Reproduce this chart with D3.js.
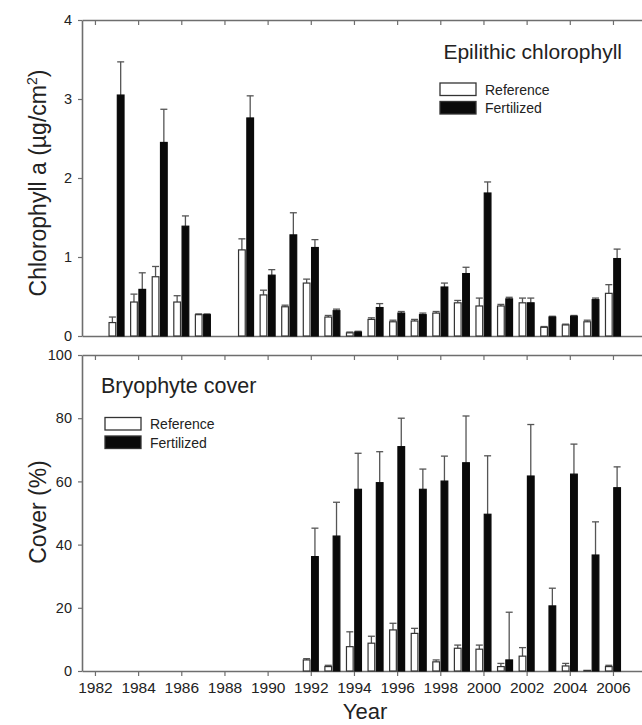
<!DOCTYPE html>
<html>
<head>
<meta charset="utf-8">
<script src="https://cdn.jsdelivr.net/npm/d3@7/dist/d3.min.js"></script>
<style>
  body { margin: 0; background: #fff; }
  svg { display: block; font-family: "Liberation Sans", Arial, sans-serif; }
</style>
</head>
<body>
<svg id="chart" width="642" height="725"></svg>
<script>
// years on the x axis
const years = d3.range(1982, 2007);
const yearTicks = d3.range(1982, 2007, 2);

// epilithic chlorophyll a (ug/cm2), mean and SE, null = not sampled
const chlRef = [null, 0.17, 0.43, 0.75, 0.43, 0.27, null, 1.09, 0.52, 0.37, 0.67, 0.24, 0.04,
  0.21, 0.18, 0.19, 0.29, 0.42, 0.38, 0.38, 0.42, 0.11, 0.14, 0.18, 0.54];
const chlRefSe = [null, 0.07, 0.10, 0.13, 0.08, 0.01, null, 0.14, 0.06, 0.02, 0.05, 0.02, 0.01,
  0.02, 0.02, 0.02, 0.02, 0.03, 0.10, 0.02, 0.06, 0.01, 0.01, 0.02, 0.11];
const chlFert = [null, 3.05, 0.59, 2.45, 1.39, 0.27, null, 2.76, 0.77, 1.28, 1.12, 0.32, 0.05,
  0.36, 0.29, 0.27, 0.62, 0.79, 1.81, 0.47, 0.42, 0.24, 0.25, 0.46, 0.98];
const chlFertSe = [null, 0.42, 0.21, 0.42, 0.13, 0.01, null, 0.28, 0.07, 0.28, 0.10, 0.02, 0.01,
  0.05, 0.02, 0.02, 0.05, 0.08, 0.14, 0.02, 0.06, 0.01, 0.01, 0.02, 0.12];

// bryophyte cover (%), mean and SE
const covRef = [null, null, null, null, null, null, null, null, null, null, 3.5, 1.4, 7.7,
  8.8, 13.0, 11.9, 2.9, 7.2, 6.9, 1.4, 4.7, 0, 1.6, 0.2, 1.4];
const covRefSe = [null, null, null, null, null, null, null, null, null, null, 0.4, 0.4, 4.7,
  2.2, 2.1, 1.6, 0.6, 1.0, 1.3, 1.0, 2.7, 0, 0.8, 0, 0.4];
const covFert = [null, null, null, null, null, null, null, null, null, null, 36.2, 42.7, 57.5,
  59.6, 71.0, 57.5, 60.1, 65.9, 49.6, 3.5, 61.7, 20.6, 62.3, 36.7, 58.0];
const covFertSe = [null, null, null, null, null, null, null, null, null, null, 9.0, 10.7, 11.4,
  9.8, 9.0, 6.4, 7.9, 14.8, 18.5, 15.1, 16.3, 5.6, 9.5, 10.5, 6.6];

const chlTicks = [0, 1, 2, 3, 4];
const covTicks = [0, 20, 40, 60, 80, 100];
const seriesNames = ["Reference", "Fertilized"];

const svg = d3.select("#chart");
const axisColor = "#6e6e6e";
const textColor = "#222";

const x = d3.scaleLinear().domain([1981.4, 2007.6]).range([82, 647.5]);
const barW = (x(1) - x(0)) * 0.31;

const panels = [
  { top: 20, bottom: 336, max: 4, ticks: chlTicks, ref: chlRef, refSe: chlRefSe, fert: chlFert, fertSe: chlFertSe,
    xLabels: false },
  { top: 355, bottom: 671, max: 100, ticks: covTicks, ref: covRef, refSe: covRefSe, fert: covFert, fertSe: covFertSe,
    xLabels: true }
];

panels.forEach(p => {
  const y = d3.scaleLinear().domain([0, p.max]).range([p.bottom, p.top]);
  const g = svg.append("g");

  // top frame with inward ticks
  g.append("g")
    .attr("transform", `translate(0,${p.top})`)
    .call(d3.axisTop(x).tickValues(yearTicks).tickSize(-5).tickSizeOuter(0).tickFormat(""));

  // bottom axis
  const bx = g.append("g")
    .attr("transform", `translate(0,${p.bottom})`)
    .call(d3.axisBottom(x).tickValues(p.xLabels ? yearTicks : []).tickSize(5).tickSizeOuter(0)
      .tickPadding(6).tickFormat(d3.format("d")));
  bx.selectAll("text").style("font-size", "15.5px");

  // left axis
  const ly = g.append("g")
    .attr("transform", "translate(82,0)")
    .call(d3.axisLeft(y).tickValues(p.ticks).tickSize(4).tickSizeOuter(0).tickPadding(6)
      .tickFormat(d3.format("d")));
  ly.selectAll("text").style("font-size", "14.5px");

  g.selectAll(".domain").attr("stroke", axisColor).attr("stroke-width", 1.6);
  g.selectAll(".tick line").attr("stroke", axisColor).attr("stroke-width", 1.2);
  g.selectAll(".tick text").attr("fill", textColor);

  const rows = years.map((yr, i) => ({ yr, ref: p.ref[i], refSe: p.refSe[i], fert: p.fert[i], fertSe: p.fertSe[i] }));

  const bars = [
    { key: "ref", se: "refSe", dx: -barW - 0.8, fill: "#fff", stroke: "#333" },
    { key: "fert", se: "fertSe", dx: 0.8, fill: "#0a0a0a", stroke: "#0a0a0a" }
  ];

  bars.forEach(b => {
    const data = rows.filter(d => d[b.key] !== null);
    // error bars (upper only)
    const eg = g.append("g").attr("stroke", "#555").attr("stroke-width", 1.3);
    eg.selectAll("line.v").data(data.filter(d => d[b.se] > 0)).join("line")
      .attr("x1", d => x(d.yr) + b.dx + barW / 2)
      .attr("x2", d => x(d.yr) + b.dx + barW / 2)
      .attr("y1", d => y(d[b.key]))
      .attr("y2", d => y(d[b.key] + d[b.se]));
    eg.selectAll("line.c").data(data.filter(d => d[b.se] > 0)).join("line")
      .attr("x1", d => x(d.yr) + b.dx + barW / 2 - 3.5)
      .attr("x2", d => x(d.yr) + b.dx + barW / 2 + 3.5)
      .attr("y1", d => y(d[b.key] + d[b.se]))
      .attr("y2", d => y(d[b.key] + d[b.se]));

    g.append("g").selectAll("rect").data(data).join("rect")
      .attr("x", d => x(d.yr) + b.dx)
      .attr("width", barW)
      .attr("y", d => y(d[b.key]))
      .attr("height", d => y(0) - y(d[b.key]))
      .attr("fill", b.fill)
      .attr("stroke", b.stroke)
      .attr("stroke-width", 1.2);
  });
});

// panel titles and legends
svg.append("text")
  .attr("x", 622).attr("y", 59)
  .attr("text-anchor", "end")
  .attr("fill", textColor)
  .style("font-size", "21px")
  .text("Epilithic chlorophyll");

svg.append("text")
  .attr("x", 101).attr("y", 393)
  .attr("fill", textColor)
  .style("font-size", "21.5px")
  .text("Bryophyte cover");

function legend(lx, ly) {
  const lg = svg.append("g").attr("transform", `translate(${lx},${ly})`);
  seriesNames.forEach((name, i) => {
    lg.append("rect")
      .attr("x", 0).attr("y", i * 18.5)
      .attr("width", 36).attr("height", 12.5)
      .attr("fill", i === 0 ? "#fff" : "#0a0a0a")
      .attr("stroke", "#333").attr("stroke-width", 1.3);
    lg.append("text")
      .attr("x", 45).attr("y", i * 18.5 + 11.5)
      .attr("fill", textColor)
      .style("font-size", "14px")
      .text(name);
  });
}
legend(440, 83);
legend(105, 417.5);

// axis titles
const chlTitle = svg.append("text")
  .attr("transform", "translate(46,183) rotate(-90)")
  .attr("text-anchor", "middle")
  .attr("fill", textColor)
  .style("font-size", "23px");
chlTitle.append("tspan").text("Chlorophyll a (\u00b5g/cm");
chlTitle.append("tspan").attr("dy", -9).style("font-size", "14px").text("2");
chlTitle.append("tspan").attr("dy", 9).text(")");

svg.append("text")
  .attr("transform", "translate(46,512) rotate(-90)")
  .attr("text-anchor", "middle")
  .attr("fill", textColor)
  .style("font-size", "23px")
  .text("Cover (%)");

svg.append("text")
  .attr("x", 365).attr("y", 719)
  .attr("text-anchor", "middle")
  .attr("fill", textColor)
  .style("font-size", "22px")
  .text("Year");
</script>
</body>
</html>
